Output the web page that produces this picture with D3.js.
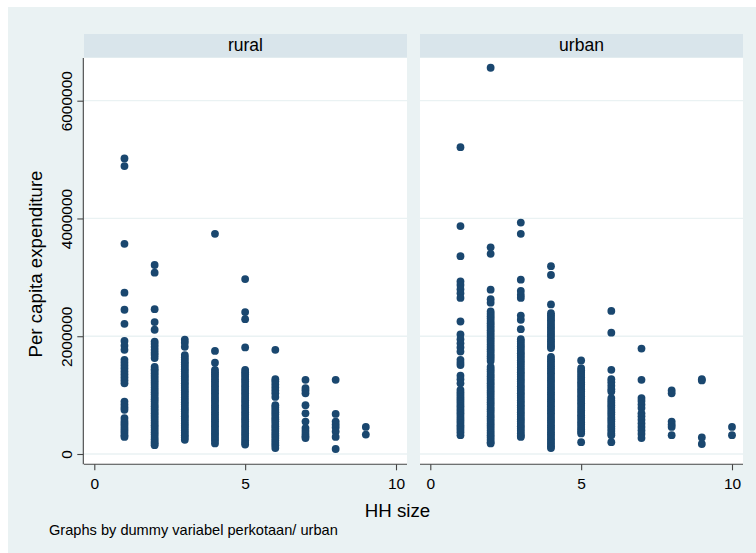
<!DOCTYPE html>
<html>
<head>
<meta charset="utf-8">
<script src="https://cdn.jsdelivr.net/npm/d3@7"></script>
<style>
  html, body { margin: 0; padding: 0; background: #ffffff; }
  svg { display: block; }
  text { font-family: "Liberation Sans", Arial, sans-serif; fill: #000; }
</style>
</head>
<body>
<div id="chart"></div>
<script>
// ---- DATA (per capita expenditure, in thousands) ----
const panels = ["rural", "urban"];
const xTicks = [0, 5, 10];
const yTicks = [0, 2000, 4000, 6000];
const yTickLabels = ["0", "2000000", "4000000", "6000000"];

const rural1 = [5020, 4890, 3570, 2740, 2450, 2210, 1920, 1840, 1770, 1600, 1550, 1500, 1450, 1400, 1350, 1300, 1250, 1200, 890, 840, 790, 750, 610, 560, 520, 480, 440, 400, 360, 320, 290];
const rural2 = [3210, 3080, 2460, 2240, 2110, 1910, 1870, 1820, 1770, 1720, 1680, 1630, 1480, 1440, 1410, 1370, 1330, 1290, 1250, 1210, 1170, 1130, 1090, 1050, 1010, 970, 930, 890, 850, 810, 770, 730, 690, 650, 610, 570, 530, 490, 450, 410, 370, 330, 290, 250, 210, 180, 150];
const rural3 = [1940, 1890, 1820, 1680, 1640, 1600, 1560, 1520, 1480, 1440, 1400, 1360, 1320, 1280, 1240, 1200, 1160, 1120, 1080, 1040, 1000, 960, 920, 880, 840, 800, 760, 720, 680, 640, 600, 560, 520, 480, 440, 400, 360, 320, 280, 240];
const rural4 = [3740, 1750, 1550, 1430, 1390, 1350, 1310, 1270, 1230, 1190, 1150, 1110, 1070, 1030, 990, 950, 910, 870, 830, 790, 750, 710, 670, 630, 590, 550, 510, 470, 430, 390, 350, 310, 270, 230, 180];
const rural5 = [2970, 2410, 2290, 1810, 1430, 1390, 1350, 1310, 1270, 1230, 1190, 1150, 1110, 1070, 1030, 990, 950, 910, 870, 830, 790, 750, 710, 670, 630, 590, 550, 510, 470, 430, 390, 350, 310, 270, 230, 190, 160];
const rural6 = [1770, 1270, 1230, 1180, 1130, 1080, 1030, 970, 830, 790, 750, 710, 670, 630, 590, 550, 510, 470, 430, 390, 350, 310, 270, 230, 190, 150, 100];
const rural7 = [1260, 1120, 1080, 1030, 830, 690, 550, 440, 390, 340, 300, 270];
const rural8 = [1260, 680, 550, 500, 450, 380, 290, 85];
const rural9 = [460, 330];

const urban1 = [5210, 3870, 3360, 2930, 2870, 2800, 2730, 2650, 2250, 2030, 1950, 1880, 1810, 1740, 1600, 1550, 1510, 1330, 1270, 1200, 1090, 1050, 1010, 970, 930, 890, 850, 810, 770, 730, 690, 650, 610, 570, 530, 490, 450, 410, 370, 320];
const urban2 = [6560, 3510, 3400, 2790, 2630, 2570, 2420, 2380, 2340, 2300, 2260, 2220, 2180, 2140, 2100, 2060, 2020, 1980, 1940, 1900, 1860, 1820, 1780, 1740, 1700, 1660, 1620, 1580, 1480, 1440, 1400, 1360, 1320, 1280, 1240, 1200, 1160, 1120, 1080, 1040, 1000, 960, 920, 880, 840, 800, 760, 720, 680, 640, 600, 560, 520, 480, 440, 400, 360, 320, 280, 240, 200, 180];
const urban3 = [3930, 3740, 2960, 2770, 2700, 2650, 2350, 2280, 2120, 1950, 1910, 1870, 1830, 1790, 1750, 1710, 1670, 1630, 1590, 1550, 1510, 1470, 1430, 1390, 1350, 1310, 1270, 1230, 1190, 1150, 1110, 1070, 1030, 990, 950, 910, 870, 830, 790, 750, 710, 670, 630, 590, 550, 510, 470, 430, 390, 350, 310, 290];
const urban4 = [3190, 3040, 2540, 2390, 2350, 2310, 2270, 2230, 2190, 2150, 2110, 2070, 2030, 1990, 1950, 1910, 1870, 1830, 1800, 1650, 1610, 1570, 1530, 1490, 1450, 1410, 1370, 1330, 1290, 1250, 1210, 1170, 1130, 1090, 1050, 1010, 970, 930, 890, 850, 810, 770, 730, 690, 650, 610, 570, 530, 490, 450, 410, 370, 330, 290, 250, 210, 170, 130, 100];
const urban5 = [1590, 1460, 1420, 1380, 1340, 1300, 1260, 1220, 1180, 1140, 1100, 1060, 1020, 980, 940, 900, 860, 820, 780, 740, 700, 660, 620, 580, 540, 500, 460, 420, 380, 350, 200];
const urban6 = [2430, 2060, 1430, 1270, 1220, 1160, 1100, 1060, 950, 910, 870, 830, 790, 750, 710, 670, 630, 590, 550, 510, 470, 430, 390, 350, 320, 200];
const urban7 = [1790, 1260, 950, 900, 840, 780, 690, 640, 580, 520, 460, 400, 340, 270];
const urban8 = [1080, 1030, 550, 500, 460, 320];
const urban9 = [1270, 1250, 280, 170];
const urban10 = [460, 320];

const ruralSeries = [rural1, rural2, rural3, rural4, rural5, rural6, rural7, rural8, rural9];
const urbanSeries = [urban1, urban2, urban3, urban4, urban5, urban6, urban7, urban8, urban9, urban10];

// ---- LAYOUT ----
const W = 756, H = 553;
const svg = d3.select("#chart").append("svg").attr("width", W).attr("height", H);

svg.append("rect").attr("x", 0).attr("y", 0).attr("width", W).attr("height", H).attr("fill", "#ffffff");
svg.append("rect").attr("x", 8).attr("y", 7).attr("width", W - 8).attr("height", H - 7).attr("fill", "#EAF2F3");

const plotTop = 58, plotBottom = 464.3;
const panelX = [84, 420];
const panelW = 323;
const headerTop = 34;

const y = d3.scaleLinear().domain([0, 6000]).range([454, 100.7]);

function toPoints(seriesList) {
  const pts = [];
  seriesList.forEach((vals, i) => vals.forEach(v => pts.push({ hh: i + 1, v: v })));
  return pts;
}

const panelData = [toPoints(ruralSeries), toPoints(urbanSeries)];

panels.forEach((name, pi) => {
  const x0 = panelX[pi];
  const x = d3.scaleLinear().domain([0, 10]).range([x0 + 10.3, x0 + 312]);
  const g = svg.append("g");

  // header strip
  g.append("rect").attr("x", x0).attr("y", headerTop).attr("width", panelW).attr("height", plotTop - headerTop - 0.5)
    .attr("fill", "#D9E5EB");
  g.append("text").attr("x", x0 + panelW / 2).attr("y", 51).attr("text-anchor", "middle")
    .style("font-size", "17.5px").text(name);

  // plot area
  g.append("rect").attr("x", x0).attr("y", plotTop).attr("width", panelW).attr("height", plotBottom - plotTop)
    .attr("fill", "#ffffff");

  // gridlines
  g.selectAll(".grid").data(yTicks).enter().append("line")
    .attr("x1", x0).attr("x2", x0 + panelW)
    .attr("y1", d => y(d)).attr("y2", d => y(d))
    .attr("stroke", "#EAF2F3").attr("stroke-width", 1.3);

  // points
  g.selectAll(".pt").data(panelData[pi]).enter().append("circle")
    .attr("cx", d => x(d.hh)).attr("cy", d => y(d.v)).attr("r", 3.9)
    .attr("fill", "#1A476F");

  // x axis
  const xAxis = d3.axisBottom(x).tickValues(xTicks).tickSize(6).tickPadding(8).tickFormat(d3.format("d"));
  const ax = g.append("g").attr("transform", `translate(0,${plotBottom})`).call(xAxis);
  ax.select(".domain").remove();
  ax.append("line").attr("x1", x0).attr("x2", x0 + panelW).attr("y1", 0).attr("y2", 0)
    .attr("stroke", "#444").attr("stroke-width", 1.1);
  ax.selectAll(".tick line").attr("stroke", "#444").attr("stroke-width", 1.1);
  ax.selectAll(".tick text").style("font-size", "15.5px").attr("fill", "#000")
    .style("font-family", "'Liberation Sans', Arial, sans-serif");

  // y axis (left panel only)
  if (pi === 0) {
    const yAxis = d3.axisLeft(y).tickValues(yTicks).tickSize(6).tickFormat((d, i) => yTickLabels[i]);
    const ay = g.append("g").attr("transform", `translate(${x0 - 0.7},0)`).call(yAxis);
    ay.select(".domain").remove();
    ay.append("line").attr("x1", 0).attr("x2", 0).attr("y1", plotTop).attr("y2", plotBottom)
      .attr("stroke", "#444").attr("stroke-width", 1.1);
    ay.selectAll(".tick line").attr("stroke", "#444").attr("stroke-width", 1.1);
    ay.selectAll(".tick text")
      .attr("x", 0).attr("dy", null)
      .attr("text-anchor", "middle")
      .attr("transform", "translate(-11.5,0) rotate(-90)")
      .attr("y", 0)
      .style("font-size", "15.5px").attr("fill", "#000")
      .style("font-family", "'Liberation Sans', Arial, sans-serif");
  }
});

// axis titles
svg.append("text").attr("transform", "translate(42,264) rotate(-90)").attr("text-anchor", "middle")
  .style("font-size", "18.7px").text("Per capita expenditure");
svg.append("text").attr("x", 397.5).attr("y", 516.7).attr("text-anchor", "middle")
  .style("font-size", "18.7px").text("HH size");
svg.append("text").attr("x", 49).attr("y", 535).attr("text-anchor", "start")
  .style("font-size", "14.6px").text("Graphs by dummy variabel perkotaan/ urban");
</script>
</body>
</html>
